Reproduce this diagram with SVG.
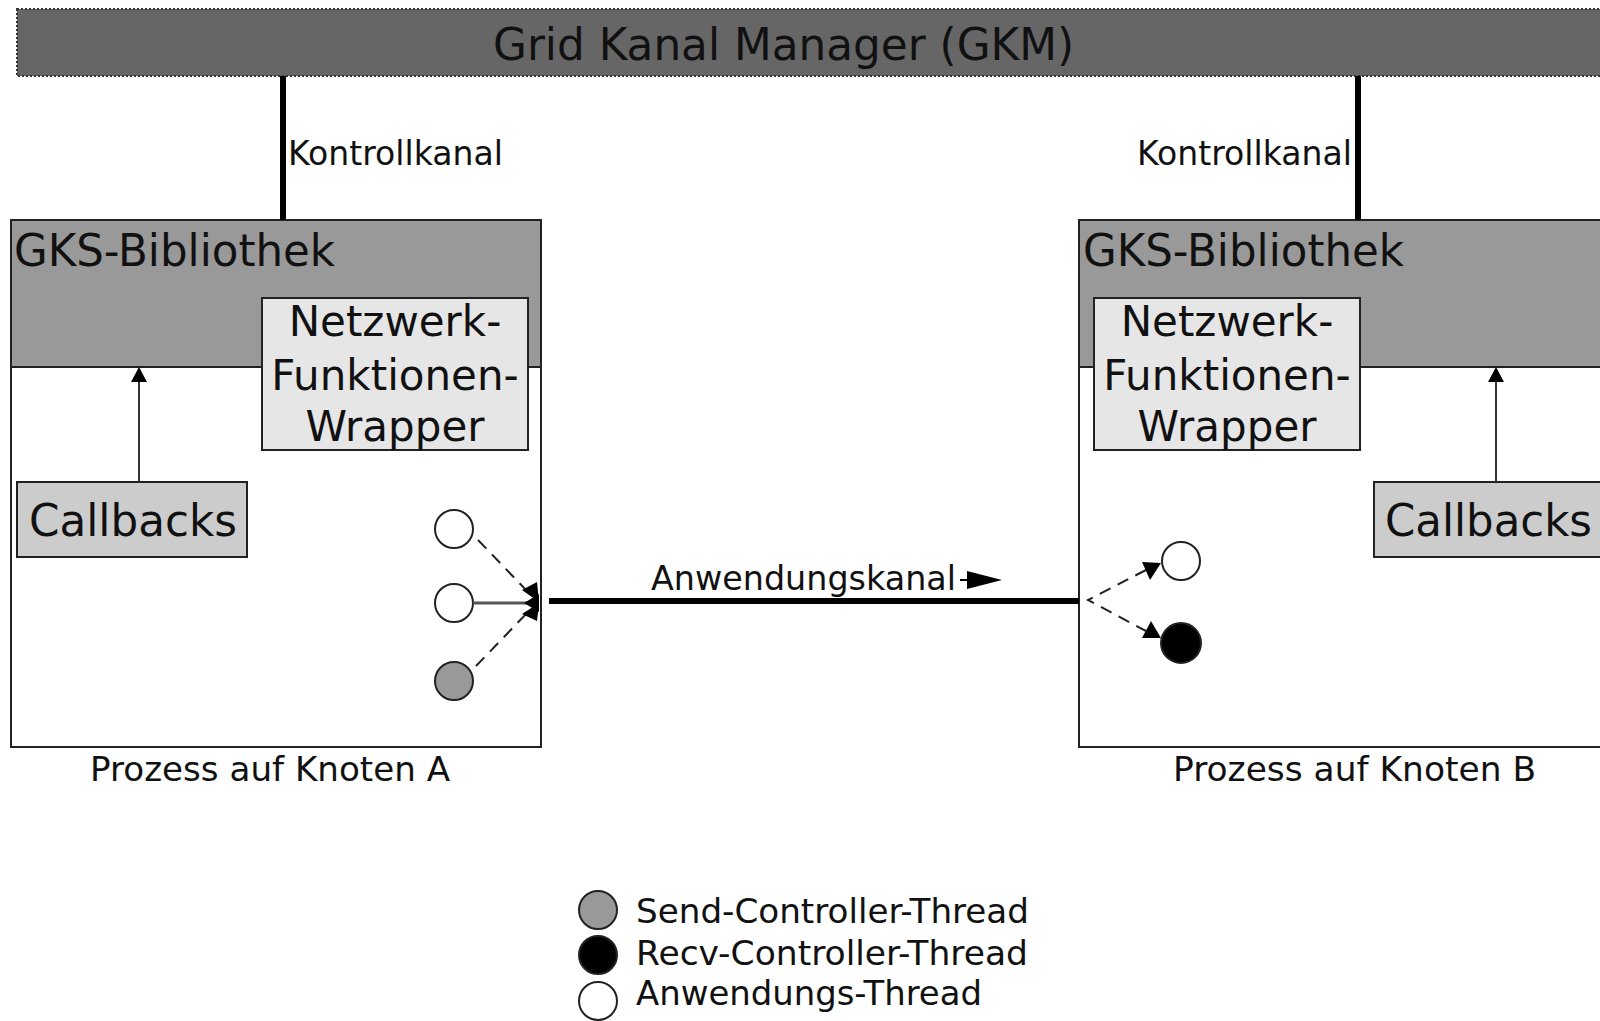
<svg xmlns="http://www.w3.org/2000/svg" width="1600" height="1021" viewBox="0 0 1600 1021">
<style>
text{font-family:"DejaVu Sans","Liberation Sans",sans-serif;fill:#111}
.box{stroke:#222;stroke-width:2}
.thr{stroke:#222;stroke-width:2}
.dash{stroke:#222;stroke-width:2;fill:none;stroke-dasharray:12 8}
.thick{stroke:#000;stroke-width:6;fill:none}
.ah{fill:#000}
</style>
<rect width="1600" height="1021" fill="#fff"/>
<g id="gkm">
<rect x="17" y="9" width="1600" height="67" fill="#666" stroke="#333" stroke-width="2" stroke-dasharray="2 2"/>
<text x="493" y="60" font-size="44" textLength="581" lengthAdjust="spacingAndGlyphs">Grid Kanal Manager (GKM)</text>
</g>
<g id="process-a">
<rect class="box" x="11" y="220" width="530" height="527" fill="#fff"/>
<text x="90" y="781" font-size="33" textLength="360" lengthAdjust="spacingAndGlyphs">Prozess auf Knoten A</text>
</g>
<g id="gks-a">
<rect class="box" x="11" y="220" width="530" height="147" fill="#999"/>
<text x="14" y="266" font-size="44" textLength="321" lengthAdjust="spacingAndGlyphs">GKS-Bibliothek</text>
</g>
<g id="netz-a">
<rect class="box" x="262" y="298" width="266" height="152" fill="#e6e6e6"/>
<text x="395" y="336" font-size="42" text-anchor="middle">Netzwerk-</text>
<text x="395" y="390" font-size="42" text-anchor="middle">Funktionen-</text>
<text x="395" y="441" font-size="42" text-anchor="middle">Wrapper</text>
</g>
<g id="callbacks-a">
<rect class="box" x="17" y="482" width="230" height="75" fill="#ccc"/>
<text x="29" y="536" font-size="44" textLength="208" lengthAdjust="spacingAndGlyphs">Callbacks</text>
</g>
<g id="threads-a">
<circle class="thr" cx="454" cy="529" r="19" fill="#fff"/>
<circle class="thr" cx="454" cy="603" r="19" fill="#fff"/>
<circle class="thr" cx="454" cy="681" r="19" fill="#999"/>
</g>
<g id="process-b">
<rect class="box" x="1079" y="220" width="540" height="527" fill="#fff"/>
<text x="1173" y="781" font-size="33" textLength="363" lengthAdjust="spacingAndGlyphs">Prozess auf Knoten B</text>
</g>
<g id="gks-b">
<rect class="box" x="1079" y="220" width="540" height="147" fill="#999"/>
<text x="1083" y="266" font-size="44" textLength="321" lengthAdjust="spacingAndGlyphs">GKS-Bibliothek</text>
</g>
<g id="netz-b">
<rect class="box" x="1094" y="298" width="266" height="152" fill="#e6e6e6"/>
<text x="1227" y="336" font-size="42" text-anchor="middle">Netzwerk-</text>
<text x="1227" y="390" font-size="42" text-anchor="middle">Funktionen-</text>
<text x="1227" y="441" font-size="42" text-anchor="middle">Wrapper</text>
</g>
<g id="callbacks-b">
<rect class="box" x="1374" y="482" width="240" height="75" fill="#ccc"/>
<text x="1385" y="536" font-size="44" textLength="207" lengthAdjust="spacingAndGlyphs">Callbacks</text>
</g>
<g id="threads-b">
<circle class="thr" cx="1181" cy="561" r="19" fill="#fff"/>
<circle class="thr" cx="1181" cy="643" r="20" fill="#000"/>
</g>
<g id="connectors">
<line class="thick" x1="283" y1="76" x2="283" y2="220"/>
<text x="288" y="165" font-size="34" textLength="215" lengthAdjust="spacingAndGlyphs">Kontrollkanal</text>
<line class="thick" x1="1358" y1="76" x2="1358" y2="220"/>
<text x="1137" y="165" font-size="34" textLength="215" lengthAdjust="spacingAndGlyphs">Kontrollkanal</text>
<line x1="139" y1="482" x2="139" y2="380" stroke="#333" stroke-width="2"/>
<polygon class="ah" points="139,367 131,382 147,382"/>
<line x1="1496" y1="482" x2="1496" y2="380" stroke="#333" stroke-width="2"/>
<polygon class="ah" points="1496,367 1488,382 1504,382"/>
<line class="thick" x1="549" y1="601" x2="1079" y2="601"/>
<text x="651" y="590" font-size="33" textLength="305" lengthAdjust="spacingAndGlyphs">Anwendungskanal</text>
<line x1="960" y1="580" x2="970" y2="580" stroke="#000" stroke-width="2"/>
<polygon class="ah" points="967,571 1002,580 967,589"/>
<line class="dash" x1="478" y1="540" x2="528" y2="592"/>
<line x1="473" y1="603" x2="530" y2="603" stroke="#555" stroke-width="3"/>
<line class="dash" x1="476" y1="666" x2="528" y2="612"/>
<polygon class="ah" points="522,590 537,582 539,602"/>
<polygon class="ah" points="524,603 539,594 539,612"/>
<polygon class="ah" points="522,614 539,603 537,621"/>
<polyline class="dash" points="1146,570 1088,600 1146,631" stroke-dasharray="14 8"/>
<polygon class="ah" points="1142,562 1161,563 1150,580"/>
<polygon class="ah" points="1142,638 1151,621 1161,638"/>
</g>
<g id="legend">
<circle class="thr" cx="598" cy="910" r="19" fill="#999"/>
<text x="636" y="923" font-size="33.5" textLength="393" lengthAdjust="spacingAndGlyphs">Send-Controller-Thread</text>
<circle class="thr" cx="598" cy="955" r="19" fill="#000"/>
<text x="636" y="965" font-size="33.5" textLength="392" lengthAdjust="spacingAndGlyphs">Recv-Controller-Thread</text>
<circle class="thr" cx="598" cy="1001" r="19" fill="#fff"/>
<text x="636" y="1005" font-size="33.5" textLength="346" lengthAdjust="spacingAndGlyphs">Anwendungs-Thread</text>
</g>
</svg>
